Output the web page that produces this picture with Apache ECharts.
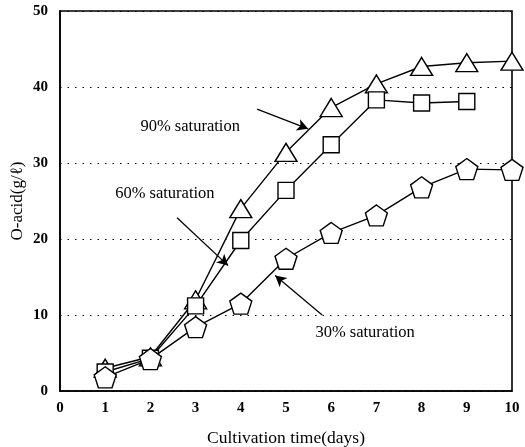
<!DOCTYPE html>
<html><head><meta charset="utf-8">
<script src="https://cdn.jsdelivr.net/npm/echarts@6/dist/echarts.min.js"></script>
<style>html,body{margin:0;padding:0;background:#fff}#c{width:525px;height:447px}</style>
</head><body><div id="c"></div>
<script>
const days = [1,2,3,4,5,6,7,8,9,10];
const sat90 = [3.0,4.5,12.0,24.0,31.4,37.3,40.4,42.7,43.2,43.4];
const sat60 = [2.5,4.3,11.2,19.8,26.4,32.4,38.3,37.9,38.1];
const sat30 = [1.8,4.2,8.4,11.5,17.4,20.8,23.1,26.8,29.2,29.1];
const xTicks = [0,1,2,3,4,5,6,7,8,9,10];
const yTicks = [0,10,20,30,40,50];
const labels = [
  {text:'90% saturation', at:[2.88,34.8], from:[4.36,37.1], to:[5.49,34.5]},
  {text:'60% saturation', at:[2.32,25.9], from:[2.59,22.8], to:[3.72,16.5]},
  {text:'30% saturation', at:[6.75,7.7], from:[5.80,10.0], to:[4.76,15.2]}
];
const pentagon = 'path://M0,-1L0.951,-0.309L0.588,0.809L-0.588,0.809L-0.951,-0.309Z';
const font = '"Liberation Serif", "DejaVu Serif", serif';
function pairs(ys){ return ys.map((v,i)=>[days[i], v]); }
function mk(name, ys, symbol, size, idx){
  const lab = labels[idx];
  return {
    name, type:'line', data:pairs(ys), symbol, symbolSize:size, z:2+idx,
    lineStyle:{color:'#000', width:1.4},
    itemStyle:{color:'#fff', borderColor:'#000', borderWidth:1.4},
    emphasis:{disabled:true},
    markLine:{
      silent:true, symbol:['none','arrow'], symbolSize:[9,11],
      lineStyle:{color:'#000', width:1.3, type:'solid'},
      label:{show:false},
      data:[[{coord:lab.from},{coord:lab.to}]]
    },
    markPoint:{
      silent:true, symbol:'circle', symbolSize:0,
      label:{show:true, formatter:lab.text, color:'#000', fontFamily:font, fontSize:16.5, position:'inside'},
      data:[{coord:lab.at}]
    }
  };
}
const chart = echarts.init(document.getElementById('c'));
chart.setOption({
  animation:false,
  backgroundColor:'#fff',
  grid:{left:60, right:13, top:11, bottom:56, containLabel:false, outerBoundsMode:'none',
        show:true, borderColor:'#000', borderWidth:1.6, backgroundColor:'transparent'},
  xAxis:{
    type:'value', min:xTicks[0], max:xTicks[xTicks.length-1], interval:1,
    name:'Cultivation time(days)', nameLocation:'middle', nameGap:38, nameMoveOverlap:false,
    nameTextStyle:{color:'#000', fontFamily:font, fontSize:17.5},
    axisLine:{show:true, lineStyle:{color:'#000', width:1.6}},
    axisTick:{show:false},
    axisLabel:{color:'#000', fontFamily:font, fontSize:15, fontWeight:'bold', margin:10},
    splitLine:{show:false}
  },
  yAxis:{
    type:'value', min:yTicks[0], max:yTicks[yTicks.length-1], interval:10,
    name:'O-acid(g/ℓ)', nameLocation:'middle', nameGap:34, nameMoveOverlap:false,
    nameTextStyle:{color:'#000', fontFamily:font, fontSize:17},
    axisLine:{show:true, lineStyle:{color:'#000', width:1.6}},
    axisTick:{show:false},
    axisLabel:{color:'#000', fontFamily:font, fontSize:15, fontWeight:'bold', margin:12},
    splitLine:{show:true, lineStyle:{color:'#000', type:[1.5,6], width:1}}
  },
  series:[
    mk('90% saturation', sat90, 'triangle', [22,18], 0),
    mk('60% saturation', sat60, 'rect', [16,16], 1),
    mk('30% saturation', sat30, pentagon, [22,21], 2)
  ]
});
</script>
</body></html>
